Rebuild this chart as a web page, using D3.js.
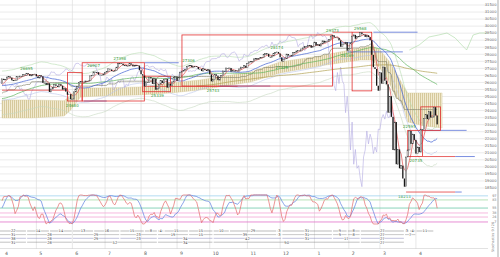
<!DOCTYPE html>
<html><head><meta charset="utf-8">
<script src="https://cdn.jsdelivr.net/npm/d3@7"></script>
<style>html,body{margin:0;padding:0;background:#fff;overflow:hidden}svg{display:block;font-family:"DejaVu Sans",Arial,sans-serif}</style>
</head><body><svg id="c" width="500" height="257"></svg>
<script>
// ---- DATA (Dow Jones daily closes) ----
const warmup = [25826,25027,24947,24389,24423,24370,24527,24597,24101,23592,23675,23324,22859,22445,21792,22878,23138,23062,23327,
23346,22686,23433,23531,23787,23879,24001,23996,23910,24065,24207,24370,24706,24404,24575,24553,24737,24528,24580,25014,24999,
25064,25239,25411,25390,25169,25106,25053,25425,25543,25439,25883,25891,25954,25850,26031,26091,26057,25985,25916,
26026,25819,25806,25673,25473,25450,25650,25554,25702,25709,25849,25914,25887,25745,25962,25502,25516,25658,25625,25717,25929];
const closes2019 = [26258,26179,26218,26384,26425,26341,26150,26157,26143,26412,26384,26452,26449,26559,26511,26656,26597,26462,26543,26554,26592,
26430,26307,26505,26438,25965,25967,25828,25942,25324,25532,25648,25862,25764,25679,25877,25776,25490,25585,25347,25126,25169,24815,
24819,25332,25539,25720,25984,26062,26048,26004,26106,26090,26112,26465,26504,26753,26719,26727,26548,26536,26526,26600,
26717,26787,26966,26922,26806,26783,26860,27088,27332,27359,27335,27219,27223,27154,27171,27349,27269,27140,27192,27221,27198,26864,
26583,26485,25717,26030,26007,26378,26287,25897,26280,25480,25579,25886,26136,25962,26202,26253,25629,25899,25778,26036,26363,26403,
26118,26356,26728,26797,26836,26910,27137,27182,27220,27076,27111,27147,27095,26935,26950,26808,26970,26891,26820,26917,
26573,26079,26201,26573,26478,26165,26347,26497,26817,26787,27024,27001,27026,26770,26828,26788,26834,26806,26958,27091,27071,27186,27046,
27347,27462,27492,27492,27675,27681,27691,27691,27783,27782,28005,28036,28036,27821,27766,27876,28066,28121,28164,28051,
27783,27503,27650,27677,28015,27909,27881,27911,28132,28135,28235,28267,28239,28377,28455,28551,28515,28621,28645,28462,28538];
const closes2020 = [28868,28634,28703,28583,28745,28957,28824,28907,28940,29030,29298,29348,29196,29186,29160,28990,28535,28723,28734,28859,28256,
28400,28808,29291,29380,29103,29276,29277,29551,29423,29398,29232,29348,29219,28992,27961,27081,26957,25766,25409,
26703,25917,27091,26121,25865,23851,25018,23553,21200,23185,20189,21237,19899,20087,19174,18592,20704,21201,22552,21637,22328,21917,
20944,21413,21053,22680,22654,23434,23719,23390,23950,23505,23538,24242,23650,23019];

const priceTicks = [31500,31000,30500,30000,29500,29000,28500,28000,27500,27000,26500,26000,25500,25000,24500,24000,23500,23000,22500,22000,21500,21000,20500,20000,19500,19000,18500];
const monthLabels = ["4","5","6","7","8","9","10","11","12","1","2","3","4"];
const monthStartIdx = [0,21,43,63,85,107,127,150,170,191,212,231,253];

// shaded band (upper / lower edge)
const bandIdx   = [0,18,38,42,48,60,84,103,121,152,170,194,219,226,231,236,240,245,248,258,269];
const bandUpper = [24755,24755,24700,25110,25607,25607,25678,25962,26175,26743,27453,27879,28447,28589,28305,27595,26885,25820,25252,25252,25252];
const bandLower = [23477,23477,23620,24045,24968,25039,25110,25252,25465,26033,26672,27169,27595,27595,27027,26175,25110,24400,23193,22909,22767];

// pale green reference line (upper right)
const refIdx   = [249,255,261,267,272,277,281,284,288,292,296,301];
const refPrice = [28305,28660,29228,29370,29512,29157,28660,28305,29370,29512,29512,29370];

// envelope widths around the 25-day average
const envelopePct = [4, -4, -8];

// pivots
const pivotIdx   = [15,43,56,72,95,114,129,168,171,202,211,219,246,249,253];
const pivotPrice = [26695,24680,26907,27398,25339,27306,25743,28174,27325,29373,28169,29568,18213,22595,20735];
const pivotSide  = [1,-1,1,1,-1,1,-1,1,-1,1,-1,1,-1,1,-1];

// range boxes [startIdx, endIdx, top, bottom]
const boxStart = [40,49,86,110,214,248,256];
const boxEnd   = [49,87,103,202,226,257,268];
const boxTop   = [26695,27398,26443,29373,29568,22595,24264];
const boxBot   = [24680,24680,25339,25743,25400,20735,22595];

// horizontal level lines
const hlStart = [0,87,50,87,133,202,227,211,255,257,277,247,277];
const hlEnd   = [40,108,64,144,164,214,254,245,284,277,289,277,281];
const hlPrice = [25450,27398,24680,25717,25743,29568,29568,28169,22595,20735,20735,18213,18213];
const hlKind  = ["r","b","b","r","b","r","b","b","b","r","b","r","b"];

// oscillator levels
const oscLevels = [97,83,55,38,24,7];

// cycle count rows (pivot indices)
const cycleRow1 = [-7,15,29,43,56,72,87,95,99,114,129,139,168,171,202,211,219,246,249,253,264];
const cycleRow2 = [-16,15,43,72,95,114,129,168,171,202,211,219,246,253];
const cycleRow3 = [-23,15,43,72,95,129,171,202,219,246];
const cycleRow4 = [-16,15,43,95,129,219,246];

// ---- BUILD ----
const svg = d3.select("#c");
const closes = closes2019.concat(closes2020);
const all = warmup.concat(closes);
const OFF = warmup.length, N = closes.length;
const x = d3.scaleLinear().domain([0, N-1]).range([2, 2+(N-1)*1.636]);
const y = d3.scaleLinear().domain([18500,31500]).range([188,5]);
const yo = d3.scaleLinear().domain([0,100]).range([224,195]);
const RIGHT = 488;

const defs = svg.append("defs");
defs.append("clipPath").attr("id","clipMain").append("rect").attr("x",0).attr("y",0).attr("width",RIGHT).attr("height",227);
defs.append("clipPath").attr("id","clipMain2").append("rect").attr("x",0).attr("y",0).attr("width",RIGHT).attr("height",257);
const pat = defs.append("pattern").attr("id","hatch").attr("patternUnits","userSpaceOnUse").attr("width",2).attr("height",4);
pat.append("rect").attr("width",2).attr("height",4).attr("fill","#f1ead0");
pat.append("rect").attr("width",0.7).attr("height",4).attr("fill","#cbbb86");

// grid
const grid = svg.append("g");
grid.selectAll("line.h").data(priceTicks).enter().append("line")
  .attr("x1",0).attr("x2",RIGHT).attr("y1",d=>y(d)).attr("y2",d=>y(d))
  .attr("stroke","#e2e2e2").attr("stroke-width",0.7);
grid.selectAll("line.v").data(monthStartIdx.slice(1)).enter().append("line")
  .attr("x1",d=>x(d)).attr("x2",d=>x(d)).attr("y1",0).attr("y2",249)
  .attr("stroke","#dcdcdc").attr("stroke-width",0.7);

const main = svg.append("g").attr("clip-path","url(#clipMain)");

// band
const band = bandIdx.map((d,i)=>({i:d,hi:bandUpper[i],lo:bandLower[i]}));
main.append("path").datum(band)
  .attr("d",d3.area().x(d=>x(d.i)).y0(d=>y(d.lo)).y1(d=>y(d.hi)))
  .attr("fill","url(#hatch)").attr("stroke","#d6c99a").attr("stroke-width",0.4);

// indicators
function win(g,n){ return g-n+1<0 ? null : all.slice(g-n+1,g+1); }
function smaSeries(n){ return closes.map((c,i)=>{const w=win(i+OFF,n); return w? d3.mean(w):null;}); }
const sma5 = smaSeries(5), sma25 = smaSeries(25), sma75 = smaSeries(75), sma200 = smaSeries(200);
const mid52 = closes.map((c,i)=>{const w=win(i+OFF,52); return w? (d3.max(w)+d3.min(w))/2:null;});
const lineP = d3.line().defined(d=>d[1]!=null).x(d=>x(d[0])).y(d=>y(d[1]));
function drawSeries(arr,color,w){
  main.append("path").datum(arr.map((v,i)=>[i,v])).attr("d",lineP)
    .attr("fill","none").attr("stroke",color).attr("stroke-width",w);
}
const envColors = ["#b5dcae","#b9c5ea","#c6d8c0"];
envelopePct.forEach((p,k)=>drawSeries(sma25.map(m=>m==null?null:m*(1+p/100)),envColors[k],0.6));
// lagging line
main.append("path").datum(closes.map((c,i)=>[i-26,c])).attr("d",lineP)
  .attr("fill","none").attr("stroke","#b3abe2").attr("stroke-width",0.6);
// reference line
main.append("path").datum(refIdx.map((d,i)=>[d,refPrice[i]])).attr("d",lineP)
  .attr("fill","none").attr("stroke","#a9d9a2").attr("stroke-width",0.6);
drawSeries(sma200,"#b0a050",0.7);
drawSeries(mid52,"#8a8a72",0.7);
drawSeries(sma75,"#5db45d",0.7);
drawSeries(sma25,"#4a68d4",0.75);
drawSeries(sma5,"#e25a5a",0.75);

// level lines
main.selectAll("line.hl").data(hlStart).enter().append("line")
  .attr("x1",(d,i)=>x(d)).attr("x2",(d,i)=>x(hlEnd[i]))
  .attr("y1",(d,i)=>y(hlPrice[i])).attr("y2",(d,i)=>y(hlPrice[i]))
  .attr("stroke",(d,i)=>hlKind[i]==="r"?"#e23c3c":"#5a72d8").attr("stroke-width",0.8);

// boxes
main.selectAll("rect.box").data(boxStart).enter().append("rect")
  .attr("x",(d,i)=>x(d)).attr("width",(d,i)=>x(boxEnd[i])-x(d))
  .attr("y",(d,i)=>y(boxTop[i])).attr("height",(d,i)=>y(boxBot[i])-y(boxTop[i]))
  .attr("fill","none").attr("stroke","#e23030").attr("stroke-width",0.8);

// candles
const candles = closes.map((c,i)=>({i, o: all[i+OFF-1], c}));
main.selectAll("rect.cd").data(candles).enter().append("rect")
  .attr("x",d=>x(d.i)-0.65).attr("width",1.3)
  .attr("y",d=>y(Math.max(d.o,d.c)))
  .attr("height",d=>Math.max(0.6, Math.abs(y(d.o)-y(d.c))))
  .attr("fill",d=>d.c<d.o?"#161616":"#ffffff")
  .attr("stroke",d=>d.c<d.o?"none":"#333").attr("stroke-width",0.45);

// pivot labels
main.selectAll("text.pv").data(pivotIdx).enter().append("text")
  .attr("x",d=>x(d)).attr("y",(d,i)=>y(pivotPrice[i])+(pivotSide[i]>0?-2.5:5.5))
  .attr("text-anchor","middle").attr("font-size",4).attr("fill","#3a9c3a")
  .text((d,i)=>pivotPrice[i]);

// ---- oscillator ----
function stochK(n){ return all.map((c,g)=>{ if(g-n+1<0) return null; const w=all.slice(g-n+1,g+1); const lo=d3.min(w),hi=d3.max(w); return hi===lo?50:(c-lo)/(hi-lo)*100;}); }
function smooth(arr,n){ return arr.map((v,g)=>{ if(g-n+1<0) return null; const w=arr.slice(g-n+1,g+1); return w.some(z=>z==null)?null:d3.mean(w);}); }
const oscFast = smooth(stochK(9),3).slice(OFF);
const oscSlow = smooth(stochK(26),5).slice(OFF);
const osc = svg.append("g").attr("clip-path","url(#clipMain)");
const levelColors = ["#9fd3ef","#a6dba6","#6cc6a8","#f3a6d6","#f3a6d6","#e070c8"];
osc.selectAll("line.lv").data(oscLevels).enter().append("line")
  .attr("x1",0).attr("x2",RIGHT).attr("y1",d=>yo(d)).attr("y2",d=>yo(d))
  .attr("stroke",(d,i)=>levelColors[i]).attr("stroke-width",0.8);
const lineO = d3.line().defined(d=>d[1]!=null).x(d=>x(d[0])).y(d=>yo(d[1]));
osc.append("path").datum(oscSlow.map((v,i)=>[i,v])).attr("d",lineO).attr("fill","none").attr("stroke","#5a7ee0").attr("stroke-width",0.7);
osc.append("path").datum(oscFast.map((v,i)=>[i,v])).attr("d",lineO).attr("fill","none").attr("stroke","#e46a6a").attr("stroke-width",0.7);

// ---- cycle rows ----
const rows = [cycleRow1,cycleRow2,cycleRow3,cycleRow4];
const rowY = [231,234.6,238.3,242.2];
const rowColor = ["#666","#888","#7777b0","#777"];
const cyc = svg.append("g").attr("clip-path","url(#clipMain2)");
rows.forEach((r,ri)=>{
  const segs = d3.pairs(r);
  const g = cyc.append("g");
  g.selectAll("line").data(segs).enter().append("line")
    .attr("x1",d=>x(d[0])+0.6).attr("x2",d=>x(d[1])-0.6).attr("y1",rowY[ri]).attr("y2",rowY[ri])
    .attr("stroke",rowColor[ri]).attr("stroke-width",0.45);
  g.selectAll("text").data(segs).enter().append("text")
    .attr("x",d=>Math.max(5,(Math.max(0,x(d[0]))+x(d[1]))/2)).attr("y",rowY[ri]+1.3)
    .attr("text-anchor","middle").attr("font-size",3.6).attr("fill","#444")
    .attr("stroke","#fff").attr("stroke-width",1.2).attr("paint-order","stroke")
    .text(d=>d[1]-d[0]);
});

// ---- axes ----
svg.append("line").attr("x1",0).attr("x2",RIGHT).attr("y1",248.5).attr("y2",248.5).attr("stroke","#cfcfcf").attr("stroke-width",0.6);
svg.selectAll("text.m").data(monthStartIdx).enter().append("text")
  .attr("x",d=>x(d)+3).attr("y",255).attr("font-size",4.6).attr("fill","#555").text((d,i)=>monthLabels[i]);
svg.append("line").attr("x1",498).attr("x2",498).attr("y1",0).attr("y2",257).attr("stroke","#bbb").attr("stroke-width",1.2);
svg.selectAll("text.p").data(priceTicks).enter().append("text")
  .attr("x",496.5).attr("y",d=>y(d)+1.3).attr("text-anchor","end").attr("font-size",3.7).attr("fill","#666").text(d=>d);
svg.selectAll("text.o").data(oscLevels).enter().append("text")
  .attr("x",496.5).attr("y",d=>yo(d)+1.3).attr("text-anchor","end").attr("font-size",3.4).attr("fill","#777").text(d=>d);
svg.append("text").attr("transform","translate(494,252) rotate(-90)").attr("font-size",3.4).attr("fill","#777").text("Stochastics 9 / 26");
</script>
</body></html>
